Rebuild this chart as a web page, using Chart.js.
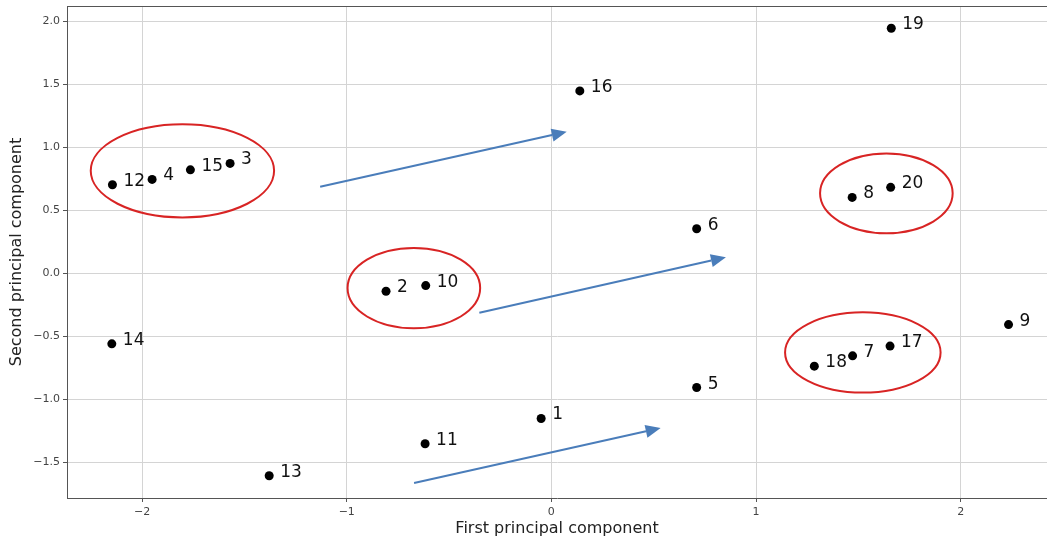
<!DOCTYPE html>
<html>
<head>
<meta charset="utf-8">
<script src="https://cdn.jsdelivr.net/npm/chart.js@4"></script>
<style>
  html, body { margin: 0; padding: 0; background: #fff; }
  #wrap { width: 1047px; height: 539px; }
</style>
</head>
<body>
<div id="wrap"><canvas id="chart" width="1047" height="539"></canvas></div>
<script>
// sample numbers and their scores on the first two principal components
const pointLabels = ["1", "2", "3", "4", "5", "6", "7", "8", "9", "10",
                     "11", "12", "13", "14", "15", "16", "17", "18", "19", "20"];
const pc1 = [-0.050, -0.808, -1.570, -1.951, 0.710, 0.710, 1.472, 1.470, 2.234, -0.614,
             -0.617, -2.145, -1.379, -2.148, -1.764, 0.139, 1.655, 1.285, 1.661, 1.658];
const pc2 = [-1.154, -0.143, 0.873, 0.746, -0.908, 0.354, -0.656, 0.603, -0.408, -0.098,
             -1.355, 0.703, -1.609, -0.561, 0.822, 1.449, -0.579, -0.738, 1.947, 0.683];

const xTicks = [-2, -1, 0, 1, 2];
const yTicks = [-1.5, -1.0, -0.5, 0.0, 0.5, 1.0, 1.5, 2.0];

// red rings round the groups (centre and radii in data units)
const ringX = [-1.803, -0.672, 1.637, 1.522];
const ringY = [0.814, -0.118, 0.635, -0.629];
const ringRx = [0.448, 0.324, 0.324, 0.380];
const ringRy = [0.370, 0.319, 0.317, 0.319];

// blue arrows, tail -> tip in data units
const arrowX0 = [-1.130, -0.352, -0.671];
const arrowY0 = [0.687, -0.313, -1.667];
const arrowX1 = [0.075, 0.853, 0.534];
const arrowY1 = [1.124, 0.127, -1.230];

const FONT = '"DejaVu Sans", sans-serif';
const minus = (s) => s.replace("-", "\u2212");

const overlay = {
  id: "overlay",
  afterDatasetsDraw(chart) {
    const { ctx, chartArea, scales: { x, y } } = chart;
    ctx.save();

    // top spine
    ctx.strokeStyle = "#555";
    ctx.lineWidth = 1;
    ctx.beginPath();
    ctx.moveTo(chartArea.left, chartArea.top + 0.5);
    ctx.lineTo(chartArea.right, chartArea.top + 0.5);
    ctx.stroke();

    // point labels
    ctx.font = "17px " + FONT;
    ctx.fillStyle = "#111";
    ctx.textBaseline = "alphabetic";
    pointLabels.forEach((t, i) => {
      ctx.fillText(t, x.getPixelForValue(pc1[i]) + 11, y.getPixelForValue(pc2[i]) + 1);
    });

    // rings
    ctx.strokeStyle = "#d82424";
    ctx.lineWidth = 2;
    ringX.forEach((cx, i) => {
      const px = x.getPixelForValue(cx);
      const py = y.getPixelForValue(ringY[i]);
      const rx = Math.abs(x.getPixelForValue(cx + ringRx[i]) - px);
      const ry = Math.abs(y.getPixelForValue(ringY[i] + ringRy[i]) - py);
      ctx.beginPath();
      ctx.ellipse(px, py, rx, ry, 0, 0, Math.PI * 2);
      ctx.stroke();
    });

    // arrows
    ctx.strokeStyle = "#4a7dba";
    ctx.fillStyle = "#4a7dba";
    arrowX0.forEach((x0v, i) => {
      const x0 = x.getPixelForValue(x0v), y0 = y.getPixelForValue(arrowY0[i]);
      const x1 = x.getPixelForValue(arrowX1[i]), y1 = y.getPixelForValue(arrowY1[i]);
      const a = Math.atan2(y1 - y0, x1 - x0);
      const len = 15, half = 6.5;
      const bx = x1 - len * Math.cos(a), by = y1 - len * Math.sin(a);
      ctx.lineWidth = 2;
      ctx.beginPath();
      ctx.moveTo(x0, y0);
      ctx.lineTo(bx, by);
      ctx.stroke();
      ctx.beginPath();
      ctx.moveTo(x1, y1);
      ctx.lineTo(bx + half * Math.sin(a), by - half * Math.cos(a));
      ctx.lineTo(bx - half * Math.sin(a), by + half * Math.cos(a));
      ctx.closePath();
      ctx.fill();
    });

    ctx.restore();
  }
};

new Chart(document.getElementById("chart"), {
  type: "scatter",
  data: {
    datasets: [{
      data: pc1.map((v, i) => ({ x: v, y: pc2[i] })),
      pointRadius: 4.5,
      pointBackgroundColor: "#000",
      pointBorderWidth: 0
    }]
  },
  options: {
    responsive: false,
    animation: false,
    devicePixelRatio: 1,
    layout: { autoPadding: false, padding: { top: 6, right: 0, bottom: 0, left: 0 } },
    plugins: { legend: { display: false }, tooltip: { enabled: false } },
    scales: {
      x: {
        type: "linear",
        min: -2.367,
        max: 2.422,
        afterBuildTicks: (s) => { s.ticks = xTicks.map((v) => ({ value: v })); },
        afterFit: (s) => { s.height = 41; s.paddingLeft = 0; s.paddingRight = 0; },
        ticks: {
          color: "#444",
          font: { family: FONT, size: 11 },
          padding: 4,
          callback: (v) => minus(String(v))
        },
        grid: { color: "#d4d4d4", tickLength: 4, tickColor: "#555" },
        border: { color: "#555", width: 1 },
        title: {
          display: true,
          text: "First principal component",
          color: "#222",
          font: { family: FONT, size: 16 },
          padding: { top: 0, bottom: 1 }
        }
      },
      y: {
        type: "linear",
        min: -1.786,
        max: 2.124,
        afterBuildTicks: (s) => { s.ticks = yTicks.map((v) => ({ value: v })); },
        afterFit: (s) => { s.width = 67; s.paddingTop = 0; s.paddingBottom = 0; },
        ticks: {
          color: "#444",
          font: { family: FONT, size: 11 },
          padding: 3,
          callback: (v) => minus(v.toFixed(1))
        },
        grid: { color: "#d4d4d4", tickLength: 4, tickColor: "#555" },
        border: { color: "#555", width: 1 },
        title: {
          display: true,
          text: "Second principal component",
          color: "#222",
          font: { family: FONT, size: 16 },
          padding: { top: 7, bottom: 0 }
        }
      }
    }
  },
  plugins: [overlay]
});
</script>
</body>
</html>
